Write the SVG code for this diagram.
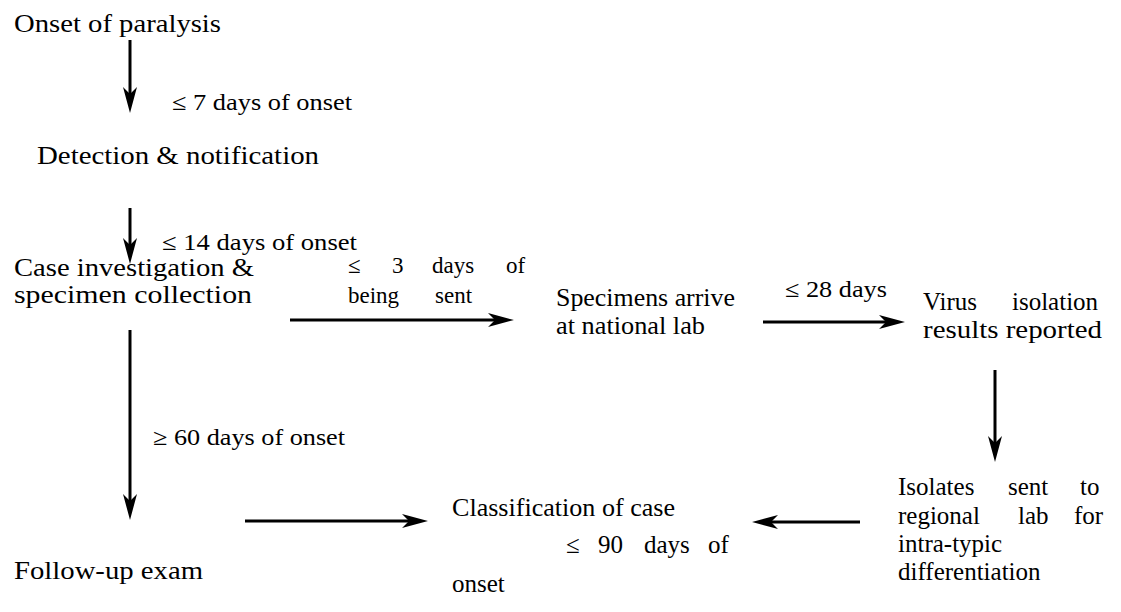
<svg xmlns="http://www.w3.org/2000/svg" width="1121" height="612" viewBox="0 0 1121 612">
<defs>
<style>
text{font-family:Liberation Serif,Tinos,Times New Roman,Times,Noto Serif,FreeSerif,DejaVu Serif,serif;fill:#000}
.n{font-size:25px}
.l{font-size:23px}
.c{stroke:#000;stroke-width:3;fill:none}
</style>
<marker id="ah" markerUnits="userSpaceOnUse" viewBox="0 0 26 14" markerWidth="26" markerHeight="14" refX="16" refY="7" orient="auto">
<path d="M0,0 L26,7 L0,14 L7,7 Z" fill="#000"/>
</marker>
</defs>
<rect width="1121" height="612" fill="#fff"/>
<g id="connectors">
<line class="c" x1="130" y1="40" x2="130" y2="103" marker-end="url(#ah)"/>
<line class="c" x1="130" y1="208" x2="130" y2="254" marker-end="url(#ah)"/>
<line class="c" x1="130" y1="330" x2="130" y2="510" marker-end="url(#ah)"/>
<line class="c" x1="290" y1="320" x2="504" y2="320" marker-end="url(#ah)"/>
<line class="c" x1="763" y1="322" x2="895" y2="322" marker-end="url(#ah)"/>
<line class="c" x1="995" y1="370" x2="995" y2="452" marker-end="url(#ah)"/>
<line class="c" x1="860" y1="522" x2="762" y2="522" marker-end="url(#ah)"/>
<line class="c" x1="245" y1="521" x2="418" y2="521" marker-end="url(#ah)"/>
<text class="l" x="172" y="110" textLength="180" lengthAdjust="spacingAndGlyphs">≤ 7 days of onset</text>
<text class="l" x="162" y="250" textLength="195" lengthAdjust="spacingAndGlyphs">≤ 14 days of onset</text>
<text class="l" y="273"><tspan x="348">≤</tspan><tspan x="392">3</tspan><tspan x="432">days</tspan><tspan x="506">of</tspan></text>
<text class="l" y="303"><tspan x="348">being</tspan><tspan x="435">sent</tspan></text>
<text class="l" x="785" y="297" textLength="102" lengthAdjust="spacingAndGlyphs">≤ 28 days</text>
<text class="l" x="153" y="445" textLength="192" lengthAdjust="spacingAndGlyphs">≥ 60 days of onset</text>
</g>
<g id="onset"><text class="n" x="14" y="32" textLength="207" lengthAdjust="spacingAndGlyphs">Onset of paralysis</text></g>
<g id="detection"><text class="n" x="37" y="164" textLength="282" lengthAdjust="spacingAndGlyphs">Detection &amp; notification</text></g>
<g id="case">
<text class="n" x="14" y="276" textLength="240" lengthAdjust="spacingAndGlyphs">Case investigation &amp;</text>
<text class="n" x="14" y="303" textLength="238" lengthAdjust="spacingAndGlyphs">specimen collection</text>
</g>
<g id="specimens">
<text class="n" x="556" y="306" textLength="179" lengthAdjust="spacingAndGlyphs">Specimens arrive</text>
<text class="n" x="556" y="334" textLength="149" lengthAdjust="spacingAndGlyphs">at national lab</text>
</g>
<g id="virus">
<text class="n" y="310"><tspan x="923">Virus</tspan><tspan x="1012">isolation</tspan></text>
<text class="n" x="923" y="338" textLength="179" lengthAdjust="spacingAndGlyphs">results reported</text>
</g>
<g id="isolates">
<text class="n" y="495"><tspan x="898">Isolates</tspan><tspan x="1008">sent</tspan><tspan x="1080">to</tspan></text>
<text class="n" y="524"><tspan x="898">regional</tspan><tspan x="1018">lab</tspan><tspan x="1074">for</tspan></text>
<text class="n" x="898" y="552">intra-typic</text>
<text class="n" x="898" y="580">differentiation</text>
</g>
<g id="followup"><text class="n" x="14" y="579" textLength="189" lengthAdjust="spacingAndGlyphs">Follow-up exam</text></g>
<g id="classification">
<text class="n" x="452" y="516" textLength="223" lengthAdjust="spacingAndGlyphs">Classification of case</text>
<text class="n" y="553"><tspan x="566">≤</tspan><tspan x="598">90</tspan><tspan x="644">days</tspan><tspan x="708">of</tspan></text>
<text class="n" x="452" y="592">onset</text>
</g>
</svg>
